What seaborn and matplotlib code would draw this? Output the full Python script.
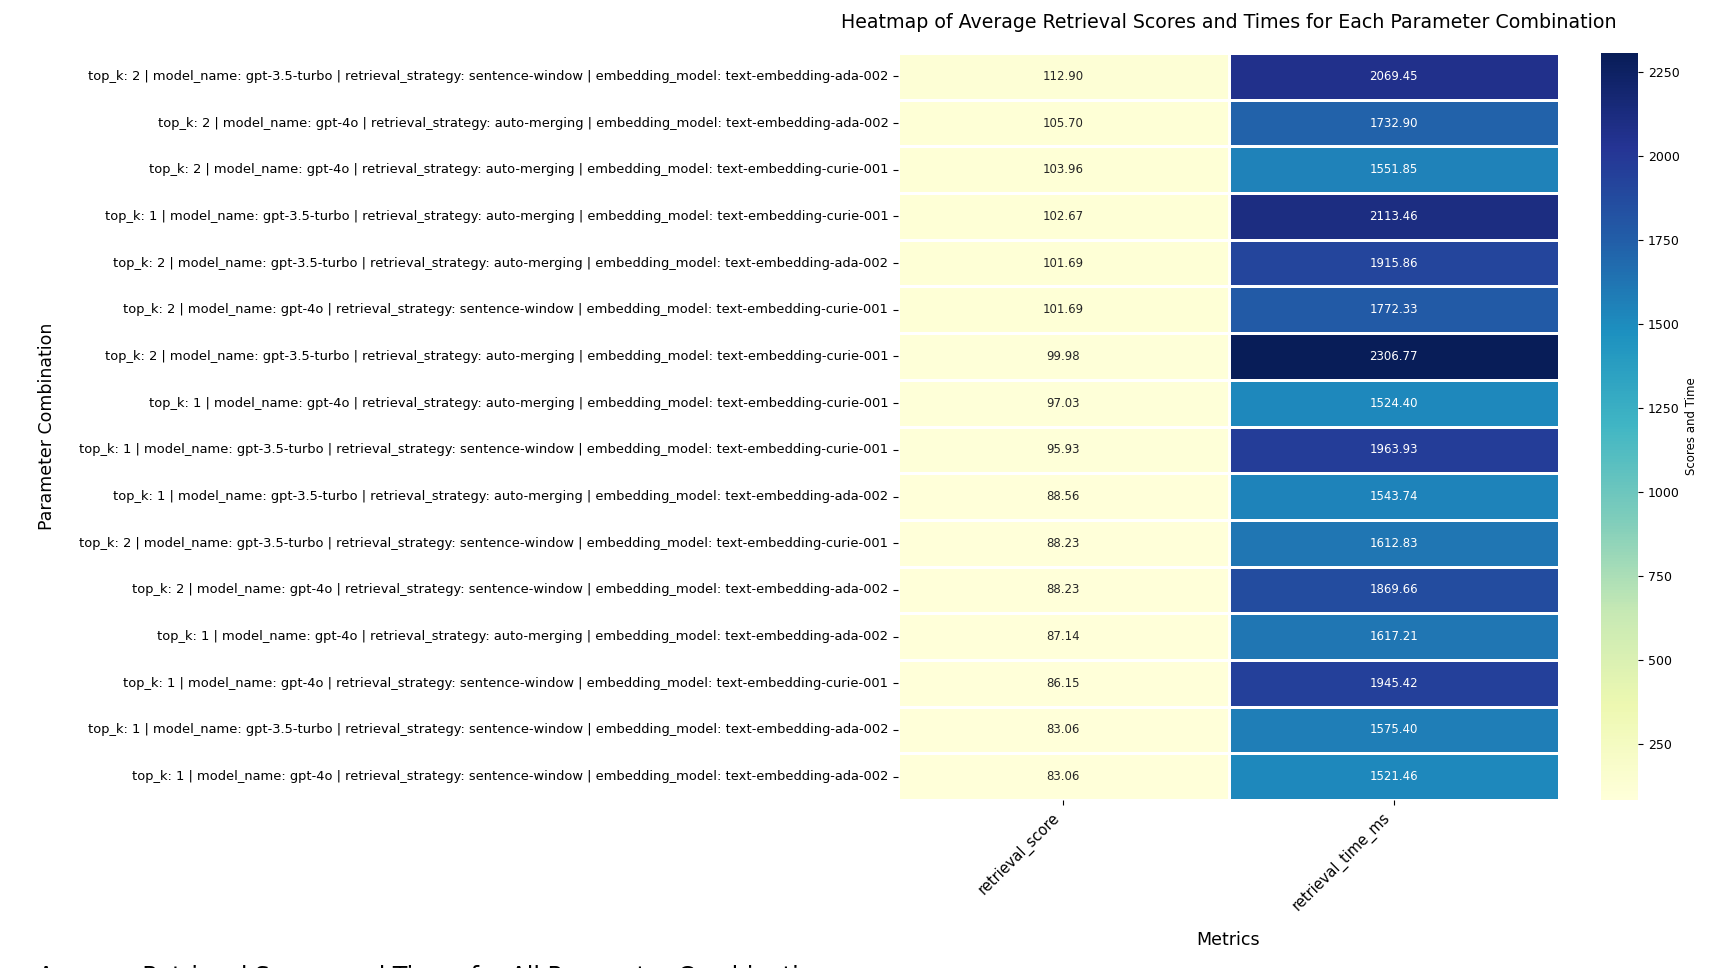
import numpy as np
import pandas as pd
import matplotlib
matplotlib.use("Agg")
import matplotlib.pyplot as plt
import seaborn as sns

top_k = [2, 2, 2, 1, 2, 2, 2, 1, 1, 1, 2, 2, 1, 1, 1, 1]
model_name = ["gpt-3.5-turbo", "gpt-4o", "gpt-4o", "gpt-3.5-turbo", "gpt-3.5-turbo",
              "gpt-4o", "gpt-3.5-turbo", "gpt-4o", "gpt-3.5-turbo", "gpt-3.5-turbo",
              "gpt-3.5-turbo", "gpt-4o", "gpt-4o", "gpt-4o", "gpt-3.5-turbo", "gpt-4o"]
retrieval_strategy = ["sentence-window", "auto-merging", "auto-merging", "auto-merging",
                      "auto-merging", "sentence-window", "auto-merging", "auto-merging",
                      "sentence-window", "auto-merging", "sentence-window", "sentence-window",
                      "auto-merging", "sentence-window", "sentence-window", "sentence-window"]
embedding_model = ["text-embedding-ada-002", "text-embedding-ada-002", "text-embedding-curie-001",
                   "text-embedding-curie-001", "text-embedding-ada-002", "text-embedding-curie-001",
                   "text-embedding-curie-001", "text-embedding-curie-001", "text-embedding-curie-001",
                   "text-embedding-ada-002", "text-embedding-curie-001", "text-embedding-ada-002",
                   "text-embedding-ada-002", "text-embedding-curie-001", "text-embedding-ada-002",
                   "text-embedding-ada-002"]
retrieval_score = [112.90, 105.70, 103.96, 102.67, 101.69, 101.69, 99.98, 97.03,
                   95.93, 88.56, 88.23, 88.23, 87.14, 86.15, 83.06, 83.06]
retrieval_time_ms = [2069.45, 1732.90, 1551.85, 2113.46, 1915.86, 1772.33, 2306.77, 1524.40,
                     1963.93, 1543.74, 1612.83, 1869.66, 1617.21, 1945.42, 1575.40, 1521.46]

labels = [
    f"top_k: {k} | model_name: {m} | retrieval_strategy: {r} | embedding_model: {e}"
    for k, m, r, e in zip(top_k, model_name, retrieval_strategy, embedding_model)
]
df = pd.DataFrame({"retrieval_score": retrieval_score,
                   "retrieval_time_ms": retrieval_time_ms}, index=labels)

fig = plt.figure(figsize=(17.18, 9.68), dpi=100)
ax = fig.add_axes([898 / 1718, 1 - 800 / 968, (1559 - 898) / 1718, (800 - 53) / 968])
cax = fig.add_axes([1601 / 1718, 1 - 800 / 968, (1638 - 1601) / 1718, (800 - 53) / 968])

sns.heatmap(df, annot=True, fmt=".2f", cmap="YlGnBu", linewidths=1, linecolor="white",
            ax=ax, cbar_ax=cax, annot_kws={"fontsize": 8.5},
            cbar_kws={"label": "Scores and Time"})
ax.set_title("Heatmap of Average Retrieval Scores and Times for Each Parameter Combination",
             fontsize=13.7, pad=18)
ax.set_xlabel("Metrics", fontsize=12.5, labelpad=12)
ax.set_ylabel("Parameter Combination", fontsize=12.5, labelpad=17)
ax.set_xticklabels(ax.get_xticklabels(), rotation=45, ha="right", fontsize=10.5)
ax.set_yticklabels(ax.get_yticklabels(), rotation=0, fontsize=9.4)
cax.tick_params(labelsize=9)
cax.yaxis.label.set_size(8.5)

# leftover text clipped at the bottom edge
fig.text(0.022, 3 / 968, "Average Retrieval Scores and Times for All Parameter Combinations",
         fontsize=17, va="top", ha="left")

fig.savefig("out.png", dpi=100)
